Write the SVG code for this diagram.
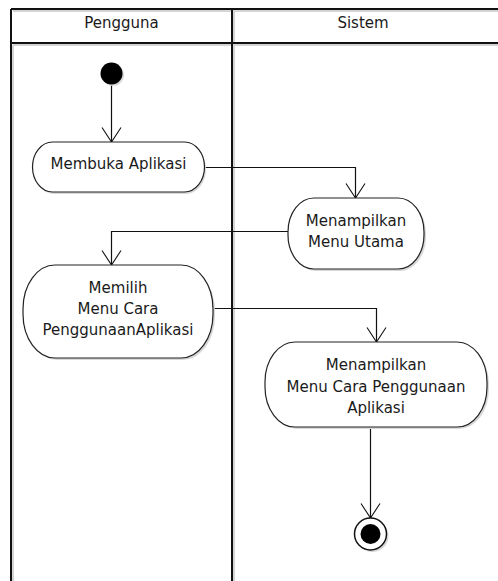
<svg xmlns="http://www.w3.org/2000/svg" width="498" height="581" viewBox="0 0 498 581">
  <defs>
    <style>
      .lane { fill: none; stroke: #111; stroke-width: 2; }
      .lane-shadow { fill: none; stroke: #d4d4d4; stroke-width: 2; }
      .node { fill: #fff; stroke: #222; stroke-width: 1.2; }
      .shadow { fill: #d8d8d8; stroke: none; }
      .label { font-family: "DejaVu Sans", "Liberation Sans", sans-serif; font-size: 15px; fill: #1a1a1a; text-anchor: middle; }
      .flow { fill: none; stroke: #111; stroke-width: 1.2; }
    </style>
    <marker id="open-arrow" markerUnits="userSpaceOnUse" markerWidth="20" markerHeight="24" refX="15" refY="10" orient="auto" viewBox="0 0 20 20">
      <path d="M0.5,0.5 L15,10 L0.5,19.5" fill="none" stroke="#111" stroke-width="1.1"/>
    </marker>
  </defs>

  <rect width="498" height="581" fill="#fff"/>

  <!-- swimlane frame -->
  <g id="swimlanes">
    <path class="lane-shadow" d="M13,11 H500 M13,45 H500 M13,45 V581 M234,11 V581"/>
    <path class="lane" d="M11,9 H500 M11,43 H500 M11,9 V581 M232,9 V581"/>
    <text class="label" x="121.5" y="28">Pengguna</text>
    <text class="label" x="363" y="28">Sistem</text>
  </g>

  <!-- connectors -->
  <g id="connectors">
    <path class="flow" d="M111.5,84 V142" marker-end="url(#open-arrow)"/>
    <path class="flow" d="M205,167.5 H355.5 V198" marker-end="url(#open-arrow)"/>
    <path class="flow" d="M288,231.5 H111.5 V265" marker-end="url(#open-arrow)"/>
    <path class="flow" d="M213,308.5 H376.5 V342" marker-end="url(#open-arrow)"/>
    <path class="flow" d="M370.5,427 V518" marker-end="url(#open-arrow)"/>
  </g>

  <g id="start">
    <circle class="shadow" cx="113" cy="75" r="11"/>
    <circle cx="111.5" cy="73.5" r="11" fill="#000"/>
  </g>

  <g id="membuka-aplikasi">
    <rect class="shadow" x="34" y="144" width="172" height="50" rx="20" ry="25"/>
    <rect class="node" x="32.5" y="142" width="172" height="50" rx="20" ry="25"/>
    <text class="label" x="118.5" y="169">Membuka Aplikasi</text>
  </g>

  <g id="menu-utama">
    <rect class="shadow" x="290" y="200" width="136" height="71" rx="26" ry="34"/>
    <rect class="node" x="288" y="198" width="136" height="71" rx="26" ry="34"/>
    <text class="label" x="356" y="226">Menampilkan</text>
    <text class="label" x="356" y="247">Menu Utama</text>
  </g>

  <g id="memilih-menu">
    <rect class="shadow" x="25" y="267" width="190" height="93" rx="32" ry="44"/>
    <rect class="node" x="23" y="265" width="190" height="93" rx="32" ry="44"/>
    <text class="label" x="118" y="293">Memilih</text>
    <text class="label" x="118" y="314">Menu Cara</text>
    <text class="label" x="118" y="335">PenggunaanAplikasi</text>
  </g>

  <g id="menampilkan-menu-cara">
    <rect class="shadow" x="267" y="344" width="222" height="85" rx="30" ry="40"/>
    <rect class="node" x="265" y="342" width="222" height="85" rx="30" ry="40"/>
    <text class="label" x="376" y="370">Menampilkan</text>
    <text class="label" x="376" y="391.5">Menu Cara Penggunaan</text>
    <text class="label" x="376" y="413">Aplikasi</text>
  </g>

  <g id="end">
    <circle class="shadow" cx="372.5" cy="536" r="16"/>
    <circle cx="370.5" cy="534" r="16" fill="#fff" stroke="#111" stroke-width="1.5"/>
    <circle cx="370.5" cy="534" r="10" fill="#000"/>
  </g>
</svg>
